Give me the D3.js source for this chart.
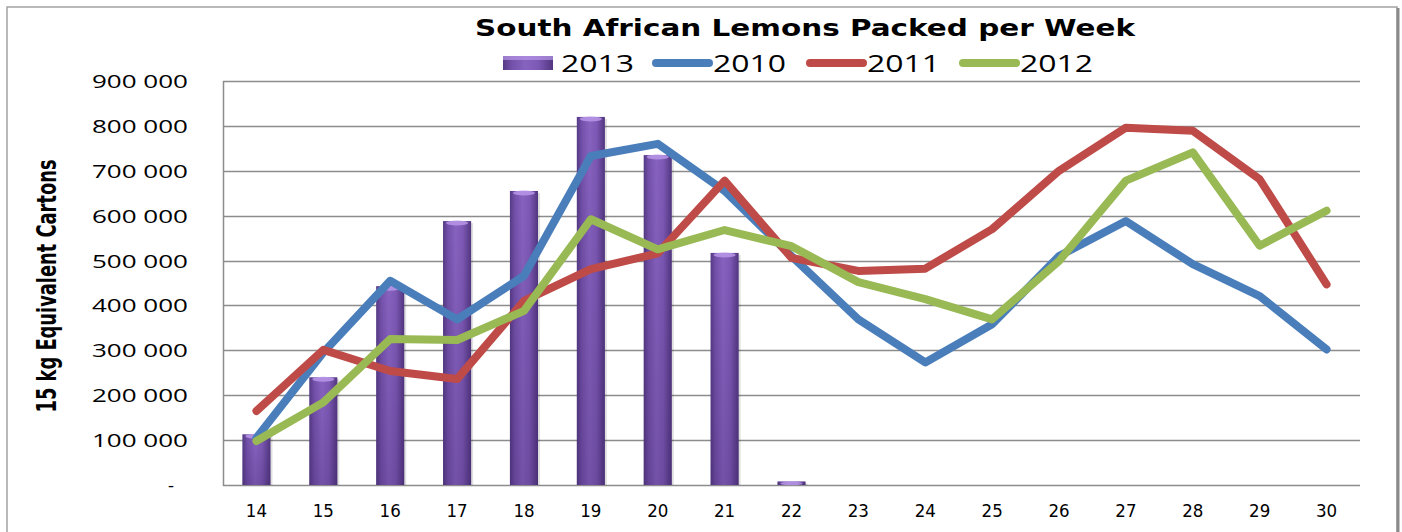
<!DOCTYPE html>
<html>
<head>
<meta charset="utf-8">
<script src="https://cdn.jsdelivr.net/npm/d3@7/dist/d3.min.js"></script>
<style>
    html, body { margin: 0; padding: 0; background: #fff; overflow: hidden; }
    svg { display: block; }
</style>
</head>
<body>
<div id="graph"></div>
<script>
"use strict";

var weeks = [14, 15, 16, 17, 18, 19, 20, 21, 22, 23, 24, 25, 26, 27, 28, 29, 30];
var packed2013 = [113000, 240000, 443000, 588000, 655000, 820000, 735000, 517000, 8000, null, null, null, null, null, null, null, null];
var packed2010 = [105000, 295000, 455000, 369000, 466000, 733000, 760000, 655000, 510000, 369000, 273000, 358000, 510000, 588000, 492000, 421000, 302000];
var packed2011 = [165000, 301000, 254000, 236000, 410000, 481000, 516000, 678000, 506000, 477000, 482000, 570000, 700000, 796000, 789000, 681000, 447000];
var packed2012 = [98000, 184000, 325000, 323000, 388000, 592000, 525000, 568000, 532000, 452000, 414000, 369000, 499000, 678000, 741000, 533000, 611000];
var yTicks = [0, 100000, 200000, 300000, 400000, 500000, 600000, 700000, 800000, 900000];

var lineSeries = [
    {name: "2010", values: packed2010, color: "#4a7ebb"},
    {name: "2011", values: packed2011, color: "#be4b48"},
    {name: "2012", values: packed2012, color: "#98b954"}
];

(function(d, w, u){
    var width = 1402, height = 532;
    var plot = {left: 223, right: 1360, top: 81, bottom: 485};
    var labelFont = "Open Sans, Noto Sans, DejaVu Sans, sans-serif";

    var svg = d3.select("#graph").append("svg")
        .attr("width", width)
        .attr("height", height);

    var defs = svg.append("defs");

    // cylinder look for the 2013 bars
    var grad = defs.append("linearGradient")
        .attr("id", "barFill")
        .attr("x1", "0").attr("x2", "1").attr("y1", "0").attr("y2", "0");
    [["0%", "#553a85"], ["18%", "#7451aa"], ["45%", "#8763c0"], ["70%", "#7d59b5"], ["100%", "#523680"]]
        .forEach(function(s){ grad.append("stop").attr("offset", s[0]).attr("stop-color", s[1]); });

    var shade = defs.append("linearGradient")
        .attr("id", "barShade")
        .attr("x1", "0").attr("x2", "0").attr("y1", "0").attr("y2", "1");
    shade.append("stop").attr("offset", "0%").attr("stop-color", "#2a1450").attr("stop-opacity", 0);
    shade.append("stop").attr("offset", "100%").attr("stop-color", "#2a1450").attr("stop-opacity", 0.22);

    // outer chart frame
    svg.append("rect")
        .attr("x", 7).attr("y", 7)
        .attr("width", 1390).attr("height", 620)
        .attr("fill", "none")
        .attr("stroke", "#a3a3a3")
        .attr("stroke-width", 1.5);
    svg.append("line")
        .attr("x1", 1398).attr("x2", 1398)
        .attr("y1", 8).attr("y2", height)
        .attr("stroke", "#8a8a8a")
        .attr("stroke-width", 3);

    var x = d3.scaleBand()
        .domain(weeks)
        .range([plot.left, plot.right])
        .paddingInner(0)
        .paddingOuter(0);

    var y = d3.scaleLinear()
        .domain([0, 900000])
        .range([plot.bottom, plot.top]);

    var cx = function(wk){ return x(wk) + x.bandwidth() / 2; };

    // gridlines
    svg.append("g")
        .selectAll("line")
        .data(yTicks)
        .enter()
        .append("line")
        .attr("x1", plot.left)
        .attr("x2", plot.right)
        .attr("y1", function(v){ return Math.round(y(v)) + 0.5; })
        .attr("y2", function(v){ return Math.round(y(v)) + 0.5; })
        .attr("stroke", "#8c8c8c")
        .attr("stroke-width", 1.5);

    svg.append("line")
        .attr("x1", plot.left + 0.5).attr("x2", plot.left + 0.5)
        .attr("y1", y(900000)).attr("y2", y(0) + 1)
        .attr("stroke", "#8c8c8c")
        .attr("stroke-width", 1.5);

    // y tick labels
    var fmt = function(v){
        if(v === 0) return "-";
        return d3.format(",")(v).replace(/,/g, " ");
    };
    svg.append("g")
        .selectAll("text")
        .data(yTicks)
        .enter()
        .append("text")
        .attr("x", function(v){ return v === 0 ? 171 : 188; })
        .attr("y", function(v){ return y(v) + 7; })
        .attr("text-anchor", function(v){ return v === 0 ? "middle" : "end"; })
        .attr("font-family", labelFont)
        .attr("font-size", 18.5)
        .attr("fill", "#000")
        .each(function(v){
            if(v !== 0){
                d3.select(this).attr("textLength", 96).attr("lengthAdjust", "spacingAndGlyphs");
            }
        })
        .text(fmt);

    // x tick labels
    svg.append("g")
        .selectAll("text")
        .data(weeks)
        .enter()
        .append("text")
        .attr("x", cx)
        .attr("y", 517)
        .attr("text-anchor", "middle")
        .attr("font-family", "DejaVu Sans Condensed, Liberation Sans Narrow, sans-serif")
        .attr("font-size", 18.5)
        .attr("fill", "#000")
        .text(function(wk){ return wk; });

    // 2013 bars
    var barW = x.bandwidth() * 0.42;
    var barData = weeks.map(function(wk, i){ return {week: wk, value: packed2013[i]}; })
        .filter(function(b){ return b.value !== null; });

    var bars = svg.append("g")
        .selectAll("g")
        .data(barData)
        .enter()
        .append("g");

    bars.append("rect")
        .attr("x", function(b){ return cx(b.week) - barW / 2 + 2; })
        .attr("y", function(b){ return y(b.value) + 2; })
        .attr("width", barW)
        .attr("height", function(b){ return y(0) - y(b.value) - 2; })
        .attr("fill", "#000")
        .attr("opacity", 0.12);

    bars.append("rect")
        .attr("x", function(b){ return cx(b.week) - barW / 2; })
        .attr("y", function(b){ return y(b.value); })
        .attr("width", barW)
        .attr("height", function(b){ return y(0) - y(b.value); })
        .attr("fill", "url(#barFill)");

    bars.append("rect")
        .attr("x", function(b){ return cx(b.week) - barW / 2; })
        .attr("y", function(b){ return y(b.value); })
        .attr("width", barW)
        .attr("height", function(b){ return y(0) - y(b.value); })
        .attr("fill", "url(#barShade)");

    bars.append("ellipse")
        .attr("cx", function(b){ return cx(b.week); })
        .attr("cy", function(b){ return y(b.value) + 2; })
        .attr("rx", barW / 2 - 3)
        .attr("ry", function(b){ return Math.min(2.5, (y(0) - y(b.value)) / 2); })
        .attr("fill", "#b897e8")
        .attr("opacity", 0.85);

    // line series
    var line = d3.line()
        .x(function(p){ return cx(p.week); })
        .y(function(p){ return y(p.value); });

    svg.append("g")
        .selectAll("path")
        .data(lineSeries)
        .enter()
        .append("path")
        .attr("fill", "none")
        .attr("stroke", function(s){ return s.color; })
        .attr("stroke-width", 8)
        .attr("stroke-linecap", "round")
        .attr("stroke-linejoin", "round")
        .attr("d", function(s){
            return line(weeks.map(function(wk, i){ return {week: wk, value: s.values[i]}; }));
        });

    // title
    svg.append("text")
        .attr("x", 805)
        .attr("y", 36)
        .attr("text-anchor", "middle")
        .attr("font-family", "DejaVu Sans, Verdana, sans-serif")
        .attr("font-weight", "bold")
        .attr("font-size", 23)
        .attr("textLength", 660)
        .attr("lengthAdjust", "spacingAndGlyphs")
        .text("South African Lemons Packed per Week");

    // y axis title
    svg.append("text")
        .attr("transform", "translate(56,286) rotate(-90)")
        .attr("text-anchor", "middle")
        .attr("font-family", "DejaVu Sans Condensed, Liberation Sans Narrow, sans-serif")
        .attr("font-weight", "bold")
        .attr("font-size", 27)
        .attr("textLength", 253)
        .attr("lengthAdjust", "spacingAndGlyphs")
        .text("15 kg Equivalent Cartons");

    // legend
    var legend = svg.append("g");
    legend.append("rect")
        .attr("x", 503).attr("y", 56)
        .attr("width", 50).attr("height", 14)
        .attr("fill", "url(#barFill)");
    legend.append("rect")
        .attr("x", 503).attr("y", 56)
        .attr("width", 50).attr("height", 4)
        .attr("fill", "#b897e8")
        .attr("opacity", 0.7);
    legend.append("text")
        .attr("x", 561).attr("y", 72)
        .attr("font-family", labelFont)
        .attr("font-size", 24)
        .attr("textLength", 73)
        .attr("lengthAdjust", "spacingAndGlyphs")
        .text("2013");

    var legendStarts = [652, 806, 959];
    var items = legend.selectAll("g.item")
        .data(lineSeries)
        .enter()
        .append("g")
        .attr("class", "item")
        .attr("transform", function(s, i){ return "translate(" + legendStarts[i] + ",0)"; });

    items.append("line")
        .attr("x1", 4).attr("x2", 57)
        .attr("y1", 63).attr("y2", 63)
        .attr("stroke", function(s){ return s.color; })
        .attr("stroke-width", 8)
        .attr("stroke-linecap", "round");

    items.append("text")
        .attr("x", 61).attr("y", 72)
        .attr("font-family", labelFont)
        .attr("font-size", 24)
        .attr("textLength", 73)
        .attr("lengthAdjust", "spacingAndGlyphs")
        .text(function(s){ return s.name; });
})(document, window, undefined);
</script>
</body>
</html>
